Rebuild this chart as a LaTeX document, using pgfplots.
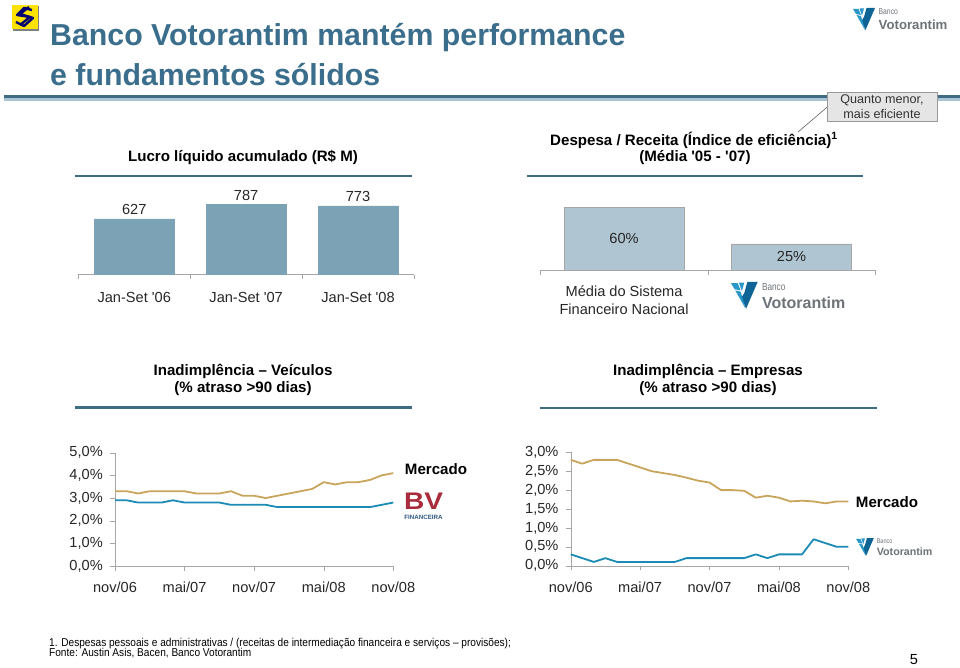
\documentclass[border=0pt]{standalone}
\usepackage{pgfplots}
\pgfplotsset{compat=1.18}
\usepackage{fontspec}
\setmainfont{Liberation Sans}
\definecolor{titleblue}{HTML}{3A6E8C}
\definecolor{rule}{HTML}{3F6B85}
\definecolor{ruleb}{HTML}{A9C4D2}
\definecolor{barA}{HTML}{7BA3B5}
\definecolor{barB}{HTML}{AFC6D2}
\definecolor{axgray}{HTML}{A6A6A6}
\definecolor{mktline}{HTML}{C9A55C}
\definecolor{bvline}{HTML}{1B8BB5}
\definecolor{logoA}{HTML}{2A97C9}
\definecolor{logoB}{HTML}{0F6496}
\definecolor{logotxt}{HTML}{6D7378}
\definecolor{bvred}{HTML}{A82C3C}
\definecolor{bvblue}{HTML}{2F5680}

\newcommand{\fs}[1]{\fontsize{#1}{#1}\selectfont}

% months 0..24, nov/06 to nov/08
\pgfplotstableread{
m  mkt  bv
0  3.3  2.9
1  3.3  2.9
2  3.2  2.8
3  3.3  2.8
4  3.3  2.8
5  3.3  2.9
6  3.3  2.8
7  3.2  2.8
8  3.2  2.8
9  3.2  2.8
10 3.3  2.7
11 3.1  2.7
12 3.1  2.7
13 3.0  2.7
14 3.1  2.6
15 3.2  2.6
16 3.3  2.6
17 3.4  2.6
18 3.7  2.6
19 3.6  2.6
20 3.7  2.6
21 3.7  2.6
22 3.8  2.6
23 4.0  2.7
24 4.1  2.8
}\veiculos
\pgfplotstableread{
m  mkt   bv
0  2.8   0.3
1  2.7   0.2
2  2.8   0.1
3  2.8   0.2
4  2.8   0.1
5  2.7   0.1
6  2.6   0.1
7  2.5   0.1
8  2.45  0.1
9  2.4   0.1
10 2.33  0.2
11 2.25  0.2
12 2.2   0.2
13 2.0   0.2
14 2.0   0.2
15 1.98  0.2
16 1.8   0.3
17 1.85  0.2
18 1.8   0.3
19 1.7   0.3
20 1.72  0.3
21 1.7   0.7
22 1.65  0.6
23 1.7   0.5
24 1.7   0.5
}\empresas

\pgfplotsset{
  barax/.style={
    scale only axis, clip=false, axis y line=none, axis x line=bottom,
    axis line style={axgray,-}, ymin=0,
    /pgf/number format/assume math mode=true,
    x tick label style={font=\fs{14.6}, text=black!85},
    major tick length=0pt, minor tick length=4.7pt, tick align=outside,
    minor tick style={axgray}, major tick style={draw=none},
  },
  lineax/.style={
    scale only axis, clip=false, axis x line=bottom, axis y line=left,
    axis line style={axgray,-}, tick style={axgray}, tick align=outside,
    major tick length=4.7pt, xmin=0, xmax=24, xtick={0,6,12,18,24},
    xticklabels={nov/06,mai/07,nov/07,mai/08,nov/08},
    tick label style={font=\fs{14.6}, text=black!85},
    x tick label style={yshift=-8pt},
    y tick label style={xshift=-4pt},
  },
  mktstyle/.style={mktline, line width=1.8pt, no marks, line join=round},
  bvstyle/.style={bvline, line width=1.8pt, no marks, line join=round},
}

% Votorantim logo, #1 at top-left of the mark (y down), #2 scale
\newcommand{\vlogo}[2]{%
  \begin{scope}[shift={#1}, scale=#2, transform shape]
    \fill[logoA] (0,1) -- (5.5,1) -- (8,7) -- (3,6) -- cycle;
    \fill[logoA] (6.5,0.5) -- (11,0.5) -- (9,7.5) -- cycle;
    \fill[logoB] (13.5,0) -- (22,0) -- (12.5,22) -- (8.5,13) -- (11,9) -- cycle;
    \fill[logoA] (3.5,7) -- (8,8) -- (12,22) -- cycle;
    \node[anchor=west, inner sep=0, logotxt, font=\fs{8.5}, xscale=.8] at (25.5,4) {Banco};
    \node[anchor=west, inner sep=0, logotxt, font=\bfseries\fs{13.2}] at (25.5,17) {Votorantim};
  \end{scope}}

\begin{document}
\begin{tikzpicture}[x=1pt,y=1pt]
\path[use as bounding box] (0,0) rectangle (960,667);

% bars: lucro liquido
\begin{axis}[barax, at={(78.3pt,392.3pt)}, anchor=south west, width=335.7pt, height=70pt,
  xmin=0, xmax=3, ymax=787, xtick={0.5,1.5,2.5}, minor xtick={0,1,2,3},
  x tick label style={yshift=-14pt},
  xticklabels={Jan-Set \textquotesingle06,Jan-Set \textquotesingle07,Jan-Set \textquotesingle08},
  nodes near coords, every node near coord/.append style={font=\fs{14.6}, text=black!85, yshift=1pt}]
\addplot[ybar, bar width=80pt, fill=barA, draw=barA] coordinates {(0.5,627) (1.5,787) (2.5,773)};
\end{axis}

% bars: despesa / receita
\begin{axis}[barax, at={(540.3pt,397pt)}, anchor=south west, width=335pt, height=62.7pt,
  xmin=0, xmax=2, ymax=60, xtick={0.5,1.5}, minor xtick={0,1,2},
  xticklabels={{Média do Sistema\\[3.6pt]Financeiro Nacional},{}},
  x tick label style={align=center, yshift=-12pt}]
\addplot[ybar, bar width=120pt, fill=barB, draw=axgray] coordinates {(0.5,60) (1.5,25)};
\node[font=\fs{14.6}, text=black!85] at (axis cs:0.5,30) {60\%};
\node[font=\fs{14.6}, text=black!85] at (axis cs:1.5,12.5) {25\%};
\end{axis}

% inadimplencia veiculos
\begin{axis}[lineax, at={(115pt,101pt)}, anchor=south west, width=278.3pt, height=113.3pt,
  ymin=0, ymax=5, ytick={0,1,2,3,4,5},
  yticklabels={{0,0\%},{1,0\%},{2,0\%},{3,0\%},{4,0\%},{5,0\%}}]
\addplot[mktstyle] table[x=m,y=mkt] {\veiculos};
\addplot[bvstyle] table[x=m,y=bv] {\veiculos};
\end{axis}

% inadimplencia empresas
\begin{axis}[lineax, at={(570.7pt,101.3pt)}, anchor=south west, width=277.6pt, height=113.4pt,
  ymin=0, ymax=3, ytick={0,0.5,1,1.5,2,2.5,3},
  yticklabels={{0,0\%},{0,5\%},{1,0\%},{1,5\%},{2,0\%},{2,5\%},{3,0\%}}]
\addplot[mktstyle] table[x=m,y=mkt] {\empresas};
\addplot[bvstyle] table[x=m,y=bv] {\empresas};
\end{axis}

% slide furniture, in pixels from the top left
\begin{scope}[y=-1pt, yshift=667pt]
  \fill[ruleb] (3.5,97.5) rectangle (960,101);
  \fill[rule] (3.5,95.5) rectangle (960,98);
  \node[anchor=west, inner sep=0, titleblue, font=\bfseries\fs{30.3}] at (50,38) {Banco Votorantim mantém performance};
  \node[anchor=west, inner sep=0, titleblue, font=\bfseries\fs{30.3}] at (50,75) {e fundamentos sólidos};

  \fill[rule] (75,175) rectangle (412,177);
  \fill[rule] (527,175) rectangle (863,177);
  \fill[rule] (75,406) rectangle (412,408.5);
  \fill[rule] (540,406.5) rectangle (877,409);

  \node[font=\bfseries\fs{15.1}] at (243,157) {Lucro líquido acumulado (R\$ M)};
  \node[font=\bfseries\fs{15.1}] at (694,140) {Despesa / Receita (Índice de eficiência)\textsuperscript{1}};
  \node[font=\bfseries\fs{15.1}] at (695,158) {(Média \textquotesingle05 - \textquotesingle07)};
  \node[font=\bfseries\fs{15.1}] at (243,371.5) {Inadimplência – Veículos};
  \node[font=\bfseries\fs{15.1}] at (243,389) {(\% atraso >90 dias)};
  \node[font=\bfseries\fs{15.1}] at (708,371) {Inadimplência – Empresas};
  \node[font=\bfseries\fs{15.1}] at (708,389) {(\% atraso >90 dias)};
  \node[font=\bfseries\fs{15.1}] at (436,469) {Mercado};
  \node[font=\bfseries\fs{15.1}] at (887,502) {Mercado};

  % callout
  \draw[black!55, line width=.7pt] (827.3,107) -- (798,132);
  \fill[black!10] (827,92) rectangle (937,121);
  \draw[black!40, line width=.8pt] (827,92) rectangle (937,121);
  \node[font=\fs{12.6}, text=black!80] at (882,100) {Quanto menor,};
  \node[font=\fs{12.6}, text=black!80] at (882,114.5) {mais eficiente};

  % footnote and page number
  \node[anchor=west, inner sep=0, font=\fs{11.4}, xscale=.887] at (49,644) {1. Despesas pessoais e administrativas / (receitas de intermediação financeira e serviços – provisões);};
  \node[anchor=west, inner sep=0, font=\fs{11.4}, xscale=.887] at (49,653.5) {Fonte: Austin Asis, Bacen, Banco Votorantim};
  \node[font=\fs{14.6}] at (914,660) {5};

  % logos
  \vlogo{(853,8)}{1}
  \vlogo{(731,282)}{1.21}
  \vlogo{(856,538)}{.81}

  % BV
  \node[anchor=center, inner sep=0, bvred, font=\bfseries\fs{24}, xscale=1.17] at (423.5,501.5) {BV};
  \node[anchor=center, inner sep=0, bvblue, font=\bfseries\fs{6.2}] at (423.5,517) {FINANCEIRA};

  % Banco do Brasil
  \fill[black!50] (13,6) rectangle (39,31);
  \fill[yellow!85!orange] (12,5) rectangle (37.5,29.5);
  \draw[blue!45!black, line width=2.4pt, line join=round] (32,10) -- (24,8) -- (17,15) -- (30,17) -- (20,25);
  \draw[blue!45!black, line width=2.4pt, line join=round] (16,22) -- (24,26) -- (33,18) -- (20,14) -- (29,7);
\end{scope}
\end{tikzpicture}
\end{document}
